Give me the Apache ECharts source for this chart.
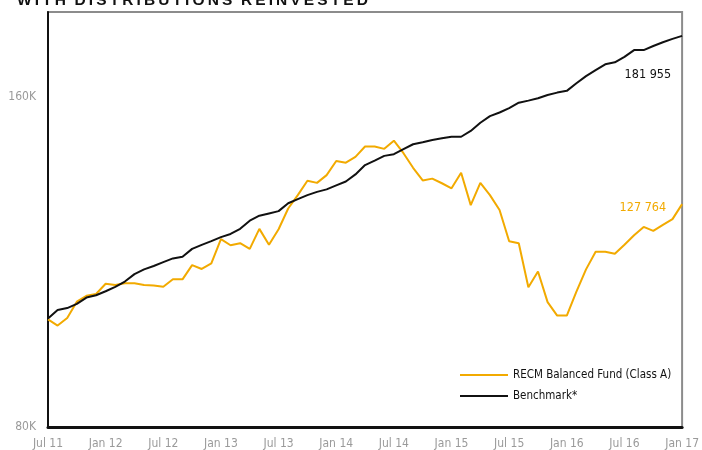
<!DOCTYPE html>
<html>
<head>
<meta charset="utf-8">
<script src="https://cdn.jsdelivr.net/npm/echarts@6/dist/echarts.min.js"></script>
<style>
  html, body { margin: 0; padding: 0; background: #fff; }
  #chart { width: 702px; height: 450px; }
</style>
</head>
<body>
<div id="chart"></div>
<script>
// monthly values, Jul 11 .. Jan 17
var startYear = 2011, startMonth = 6, monthCount = 67;
var monthNames = ['Jan','Feb','Mar','Apr','May','Jun','Jul','Aug','Sep','Oct','Nov','Dec'];

var fundName = 'RECM Balanced Fund (Class A)';
var benchName = 'Benchmark*';

var fundValues = [
  100300, 99000, 100600, 104100, 105400, 105800, 108100, 107800, 108200, 108200,
  107800, 107700, 107400, 109100, 109100, 112400, 111500, 112800, 118700, 117200,
  117700, 116300, 121300, 117300, 121200, 126600, 130200, 134200, 133600, 135800,
  139900, 139400, 141100, 144200, 144200, 143500, 146000, 142200, 137900, 134300,
  134800, 133500, 132100, 136500, 127500, 133600, 130200, 126200, 118200, 117700,
  107300, 110900, 104000, 101100, 101100, 106300, 111400, 115600, 115600, 115100,
  117300, 119700, 121800, 120800, 122300, 123800, 127764
];

var benchValues = [
  100500, 102300, 102700, 103600, 105000, 105500, 106400, 107400, 108600, 110300,
  111400, 112200, 113100, 114000, 114400, 116300, 117300, 118200, 119200, 120000,
  121300, 123400, 124700, 125300, 125900, 128000, 129100, 130200, 131100, 131800,
  132900, 134000, 136000, 138700, 140000, 141400, 141900, 143400, 144900, 145500,
  146200, 146700, 147200, 147200, 149000, 151600, 153700, 154900, 156300, 158100,
  158800, 159600, 160700, 161500, 162100, 164700, 167200, 169300, 171400, 172100,
  174100, 176600, 176600, 178100, 179500, 180800, 181955
];

var yMin = 80000, yMax = 191300;
var yTicks = { 80000: '80K', 160000: '160K' };

var months = [];
for (var i = 0; i < monthCount; i++) {
  var m = (startMonth + i) % 12;
  var y = startYear + Math.floor((startMonth + i) / 12);
  months.push(monthNames[m] + ' ' + String(y).slice(2));
}

function fmtEnd(v) {
  return String(v).replace(/\B(?=(\d{3})+(?!\d))/g, ' ');
}

var orange = '#f2aa00';
var font = "'Liberation Sans Narrow', 'DejaVu Sans Condensed', 'Liberation Sans', sans-serif";

var fundData = fundValues.map(function (v, i) {
  if (i < fundValues.length - 1) return v;
  return { value: v, label: { show: true, position: 'left', offset: [-11, 4],
    formatter: fmtEnd(v), color: orange, fontSize: 12.5, fontFamily: font } };
});
var benchData = benchValues.map(function (v, i) {
  if (i < benchValues.length - 1) return v;
  return { value: v, label: { show: true, position: 'left', offset: [-6, 39],
    formatter: fmtEnd(v), color: '#111', fontSize: 12.5, fontFamily: font } };
});

var chart = echarts.init(document.getElementById('chart'));

chart.setOption({
  animation: false,
  title: {
    text: 'W\u2009I\u2009T\u2009H  D\u2009I\u2009S\u2009T\u2009R\u2009I\u2009B\u2009U\u2009T\u2009I\u2009O\u2009N\u2009S  R\u2009E\u2009I\u2009N\u2009V\u2009E\u2009S\u2009T\u2009E\u2009D',
    left: 12,
    top: -12,
    textStyle: { fontSize: 15.5, fontWeight: 'bold', color: '#111', fontFamily: "'Liberation Sans', sans-serif" }
  },
  legend: {
    orient: 'vertical',
    left: 455,
    top: 364,
    itemWidth: 48,
    itemHeight: 2,
    itemGap: 9,
    icon: 'rect',
    textStyle: { fontSize: 11.5, color: '#111', fontFamily: font },
    data: [fundName, benchName]
  },
  grid: {
    left: 48,
    right: 16,
    top: 12,
    bottom: 23,
    show: true,
    borderColor: '#8c8c8c',
    borderWidth: 2
  },
  xAxis: {
    type: 'category',
    boundaryGap: false,
    data: months,
    axisLine: { lineStyle: { color: '#111', width: 3 } },
    axisTick: { show: false },
    axisLabel: { interval: 5, color: '#9a9a9a', fontSize: 12, margin: 11, fontFamily: font }
  },
  yAxis: {
    type: 'log',
    logBase: 160000,
    min: yMin,
    max: yMax,
    axisLine: { show: true, lineStyle: { color: '#111', width: 2 } },
    axisTick: { show: false },
    splitLine: { show: false },
    axisLabel: {
      color: '#9a9a9a', fontSize: 12, margin: 12, fontFamily: font,
      showMaxLabel: false,
      formatter: function (v) {
        var r = Math.round(v / 1000) * 1000;
        return yTicks[r] || '';
      }
    }
  },
  series: [
    {
      name: fundName,
      type: 'line',
      data: fundData,
      symbol: 'circle',
      symbolSize: 0,
      showAllSymbol: true,
      lineStyle: { color: orange, width: 2 },
      itemStyle: { color: orange },
      z: 2
    },
    {
      name: benchName,
      type: 'line',
      data: benchData,
      symbol: 'circle',
      symbolSize: 0,
      showAllSymbol: true,
      lineStyle: { color: '#111', width: 2 },
      itemStyle: { color: '#111' },
      z: 3
    }
  ]
});
</script>
</body>
</html>
